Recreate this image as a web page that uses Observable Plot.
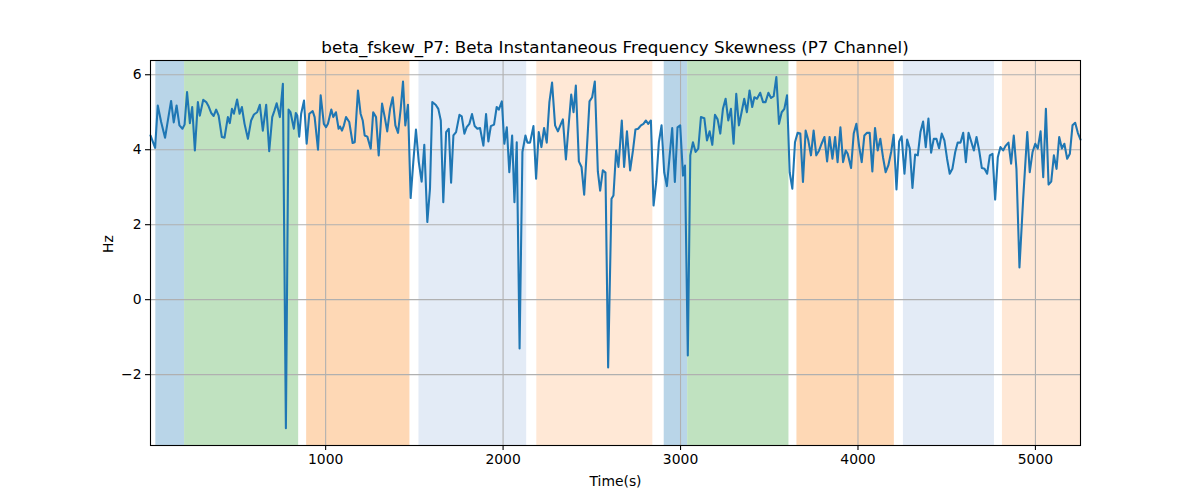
<!DOCTYPE html>
<html>
<head>
<meta charset="utf-8">
<script src="https://cdn.jsdelivr.net/npm/d3@7"></script>
<script src="https://cdn.jsdelivr.net/npm/@observablehq/plot@0.6"></script>
<style>
  body { margin: 0; background: #fff; color: #000; font-family: "DejaVu Sans", sans-serif; }
  #wrap { width: 1200px; }
  #title { height: 56px; box-sizing: border-box; padding-top: 37px; line-height: 20px; font-size: 16.7px; width: 1230px; text-align: center; }
</style>
</head>
<body>
<div id="wrap">
  <div id="title">beta_fskew_P7: Beta Instantaneous Frequency Skewness (P7 Channel)</div>
  <div id="chart"></div>
</div>
<script>
// time (s) and skewness (Hz)
var times = [13,39,54,73,95,114,129,144,160,176,193,205,219,235,248,263,280,291,310,327,341,355,369,383,397,415,430,449,460,472,483,501,515,528,543,562,580,596,614,629,646,665,682,699,712,724,742,759,776,791,802,821,832,840,851,862,878,893,908,927,938,957,972,990,1002,1013,1032,1043,1058,1073,1081,1092,1103,1115,1133,1152,1164,1182,1197,1209,1220,1235,1254,1268,1284,1299,1318,1333,1347,1363,1378,1393,1408,1423,1436,1449,1464,1479,1494,1509,1525,1541,1556,1573,1588,1601,1620,1635,1649,1663,1679,1694,1707,1720,1735,1754,1767,1782,1795,1810,1825,1840,1855,1870,1889,1904,1917,1931,1949,1964,1976,1993,2007,2021,2035,2051,2064,2077,2093,2109,2126,2137,2152,2171,2186,2201,2216,2231,2246,2261,2276,2293,2309,2326,2337,2354,2371,2384,2397,2410,2427,2442,2457,2472,2487,2502,2517,2534,2547,2562,2577,2592,2611,2622,2637,2650,2669,2682,2698,2716,2732,2746,2761,2777,2791,2805,2818,2833,2848,2863,2878,2893,2908,2923,2938,2953,2968,2983,2998,3014,3025,3041,3055,3070,3085,3100,3115,3134,3149,3164,3179,3194,3209,3224,3239,3254,3269,3284,3299,3314,3329,3344,3359,3374,3389,3404,3416,3431,3449,3465,3479,3495,3510,3525,3540,3555,3570,3585,3600,3615,3630,3645,3660,3675,3690,3705,3720,3735,3750,3765,3781,3795,3811,3826,3840,3856,3871,3885,3901,3916,3931,3942,3961,3976,3991,4006,4021,4036,4051,4066,4081,4096,4111,4126,4141,4156,4171,4187,4201,4217,4232,4246,4262,4277,4292,4307,4322,4337,4352,4367,4382,4397,4412,4427,4442,4457,4472,4487,4502,4517,4532,4548,4562,4578,4593,4608,4623,4638,4653,4668,4683,4698,4713,4728,4743,4758,4773,4788,4803,4818,4833,4848,4863,4878,4893,4910,4931,4954,4968,4984,4999,5013,5029,5044,5059,5074,5089,5104,5119,5134,5149,5163,5179,5194,5209,5224,5239,5254];
var skew = [4.38,4.05,5.18,4.74,4.32,4.87,5.30,4.73,5.18,4.65,4.56,4.67,5.54,4.71,5.14,3.98,5.27,4.91,5.33,5.27,5.15,4.98,4.90,5.07,4.91,4.34,4.32,4.87,4.71,5.09,4.96,5.34,4.96,5.14,4.69,4.29,4.78,4.94,5.00,5.20,4.51,5.20,3.96,4.87,5.05,5.24,4.87,5.76,-3.43,5.07,5.00,4.56,4.98,4.91,4.35,4.96,5.31,4.16,4.96,5.03,4.87,4.00,5.45,4.69,4.60,4.69,5.07,4.87,5.00,4.56,4.62,4.51,4.65,4.87,4.74,4.18,4.20,5.58,4.96,4.78,4.38,4.35,4.03,5.00,4.87,3.85,5.23,4.87,4.49,5.09,5.40,4.65,4.45,5.09,5.82,4.65,5.20,2.71,3.67,4.54,3.67,3.15,4.13,2.07,2.96,5.27,5.20,5.09,4.78,2.60,4.47,4.56,3.12,4.38,4.47,4.93,4.89,4.43,4.60,4.69,4.95,4.63,4.56,4.58,4.11,4.95,4.22,4.63,4.67,5.14,5.07,5.29,4.16,4.60,3.40,4.38,2.60,4.20,-1.30,3.94,4.38,4.19,4.19,4.63,3.23,4.47,4.07,4.58,4.19,5.27,5.79,4.65,4.49,4.69,4.81,3.74,4.74,5.47,5.00,5.71,3.69,3.54,2.80,4.01,5.29,5.40,5.82,3.42,2.91,3.45,3.39,-1.81,2.69,2.78,3.98,3.54,4.78,3.54,4.49,3.45,3.98,4.54,4.56,4.65,4.69,4.78,4.69,4.78,2.51,3.14,4.20,4.65,3.40,3.03,3.80,4.58,3.14,4.60,4.65,3.31,3.58,-1.49,3.85,4.20,3.94,4.03,4.87,4.84,4.25,4.49,4.13,4.93,4.81,4.43,5.09,5.36,4.78,5.09,4.16,5.49,4.65,5.00,5.36,5.00,5.58,5.14,5.40,5.36,5.52,5.27,5.27,5.52,5.38,5.43,5.94,4.69,5.00,5.09,5.45,3.40,2.96,4.20,4.45,4.43,3.14,4.51,4.25,3.85,4.51,3.85,3.98,4.16,4.34,3.69,4.34,3.76,4.34,3.67,4.60,3.67,3.98,3.89,3.51,4.43,4.69,4.11,3.67,4.38,4.45,4.45,3.42,4.58,3.98,4.29,3.80,3.40,3.58,3.94,4.40,2.94,4.22,4.36,3.36,4.27,4.03,2.98,3.87,3.85,4.47,4.75,4.07,4.83,3.92,4.29,4.29,4.04,4.43,4.25,3.76,3.36,3.49,3.94,4.19,4.19,4.45,3.67,4.45,4.22,3.98,4.34,3.98,3.51,3.49,3.36,3.85,3.89,2.67,3.80,4.07,3.98,4.11,4.19,3.63,4.38,3.49,0.86,2.70,4.47,3.40,3.94,4.16,4.03,4.49,3.27,5.09,3.07,3.15,3.85,3.49,4.34,4.03,4.16,3.76,3.89,4.65,4.72,4.45,4.27];

// shaded segments
var spanStart = [43, 205, 893, 1526, 2190, 2908, 3040, 3656, 4256, 4814];
var spanEnd   = [205, 848, 1475, 2133, 2844, 3040, 3611, 4205, 4769, 5254];
var spanKind  = ["A", "B", "C", "D", "E", "A", "B", "C", "D", "E"];

var kinds = ["A", "B", "C", "D", "E"];
var kindColors = ["#b9d5e8", "#c0e2c0", "#fed8b5", "#e3ebf6", "#ffe8d6"];

var xTicks = [1000, 2000, 3000, 4000, 5000];
var yTicks = [-2, 0, 2, 4, 6];

var series = times.map((t, i) => ({t: t, v: skew[i]}));
var spans = spanStart.map((s, i) => ({start: s, end: spanEnd[i], kind: spanKind[i]}));

var plot = Plot.plot({
  width: 1200,
  height: 444,
  marginTop: 4,
  marginBottom: 55,
  marginLeft: 150,
  marginRight: 120,
  style: {fontFamily: "DejaVu Sans", fontSize: "13.9px", color: "#000", background: "#fff"},
  x: {domain: [13, 5254]},
  y: {domain: [-3.89, 6.38]},
  color: {type: "ordinal", domain: kinds, range: kindColors},
  marks: [
    Plot.rect(spans, {x1: "start", x2: "end", fill: "kind"}),
    Plot.gridX(xTicks, {stroke: "#b0b0b0", strokeOpacity: 1, strokeWidth: 1.1}),
    Plot.gridY(yTicks, {stroke: "#b0b0b0", strokeOpacity: 1, strokeWidth: 1.1}),
    Plot.line(series, {x: "t", y: "v", stroke: "#1f77b4", strokeWidth: 2.08}),
    Plot.frame({stroke: "#000", strokeWidth: 1.1}),
    Plot.axisX(xTicks, {tickSize: 5, tickPadding: 4, tickFormat: d => String(d), fontSize: 13.9, strokeWidth: 1.1, label: null}),
    Plot.axisY(yTicks, {tickSize: 5, tickPadding: 4, fontSize: 13.9, strokeWidth: 1.1, label: null}),
    Plot.text(["Time(s)"], {frameAnchor: "bottom", dy: 36, text: d => d, fontSize: 13.9, lineAnchor: "middle"}),
    Plot.text(["Hz"], {frameAnchor: "left", dx: -42, rotate: -90, text: d => d, fontSize: 13.9})
  ]
});

document.getElementById("chart").appendChild(plot);
</script>
</body>
</html>
